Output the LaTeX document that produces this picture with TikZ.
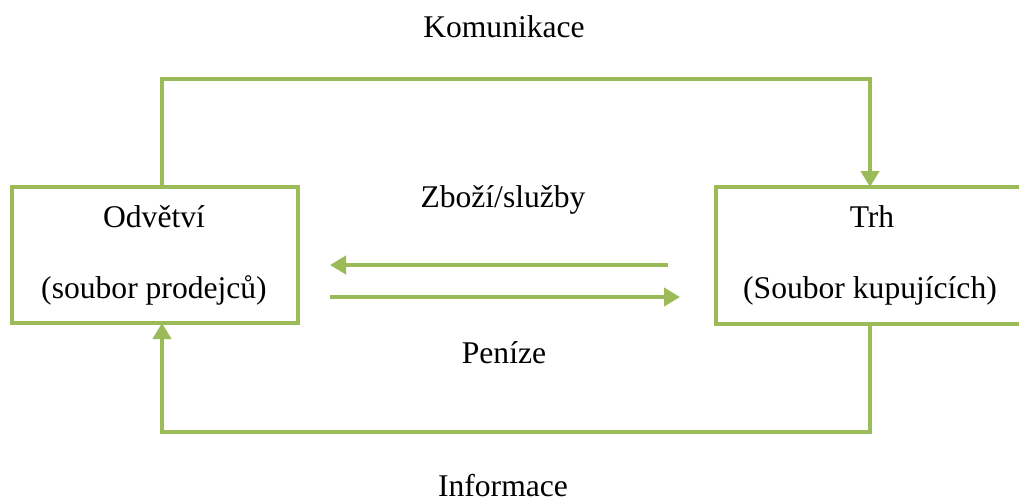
\documentclass[tikz,border=0pt]{standalone}
\usepackage{fontspec}
\setmainfont{Liberation Serif}
\usetikzlibrary{arrows.meta}
\definecolor{olive}{HTML}{9BBB59}
\begin{document}
\begin{tikzpicture}[x=0.75pt,y=-0.75pt,
  every node/.style={font=\fontsize{23.7}{28}\selectfont, inner sep=0pt},
  box/.style={draw=olive, line width=3pt, fill=white},
  flow/.style={draw=olive, line width=3pt, -{Triangle[width=13.5pt,length=12pt]}},
  lbl/.style={anchor=base}]
\useasboundingbox (0,0) rectangle (1019,497);

% the two groups
\node[box, minimum width=286*0.75pt, minimum height=136*0.75pt] (L) at (155,255) {};
\node[box, minimum width=308*0.75pt, minimum height=137*0.75pt] (R) at (870,255.5) {};

\node[lbl] (l1) at (154,227) {Odvětví};
\node[lbl] (l2) at (154,298) {(soubor prodejců)};
\node[lbl] (r1) at (872,227) {Trh};
\node[lbl] (r2) at (870,298) {(Soubor kupujících)};

% connector anchor points
\coordinate (Ltop) at (162,187);
\coordinate (Lbot) at (162,323);
\coordinate (Rtop) at (870,187);
\coordinate (Rbot) at (870,324);
\coordinate (topy) at (0,79);
\coordinate (boty) at (0,432);

% outer loop
\draw[flow] (Ltop) -- (Ltop |- topy) -- (Rtop |- topy) -- (Rtop);
\draw[flow] (Rbot) -- (Rbot |- boty) -- (Lbot |- boty) -- (Lbot);

% inner flows
\coordinate (g1) at (668,265);
\coordinate (g2) at (330,265);
\coordinate (m1) at (330,297);
\coordinate (m2) at (680,297);
\draw[flow] (g1) -- (g2);
\draw[flow] (m1) -- (m2);

% labels
\node[lbl] (kom) at (504,37) {Komunikace};
\node[lbl] (zbo) at (503,207) {Zboží/služby};
\node[lbl] (pen) at (504,363) {Peníze};
\node[lbl] (inf) at (503,496) {Informace};
\end{tikzpicture}
\end{document}
